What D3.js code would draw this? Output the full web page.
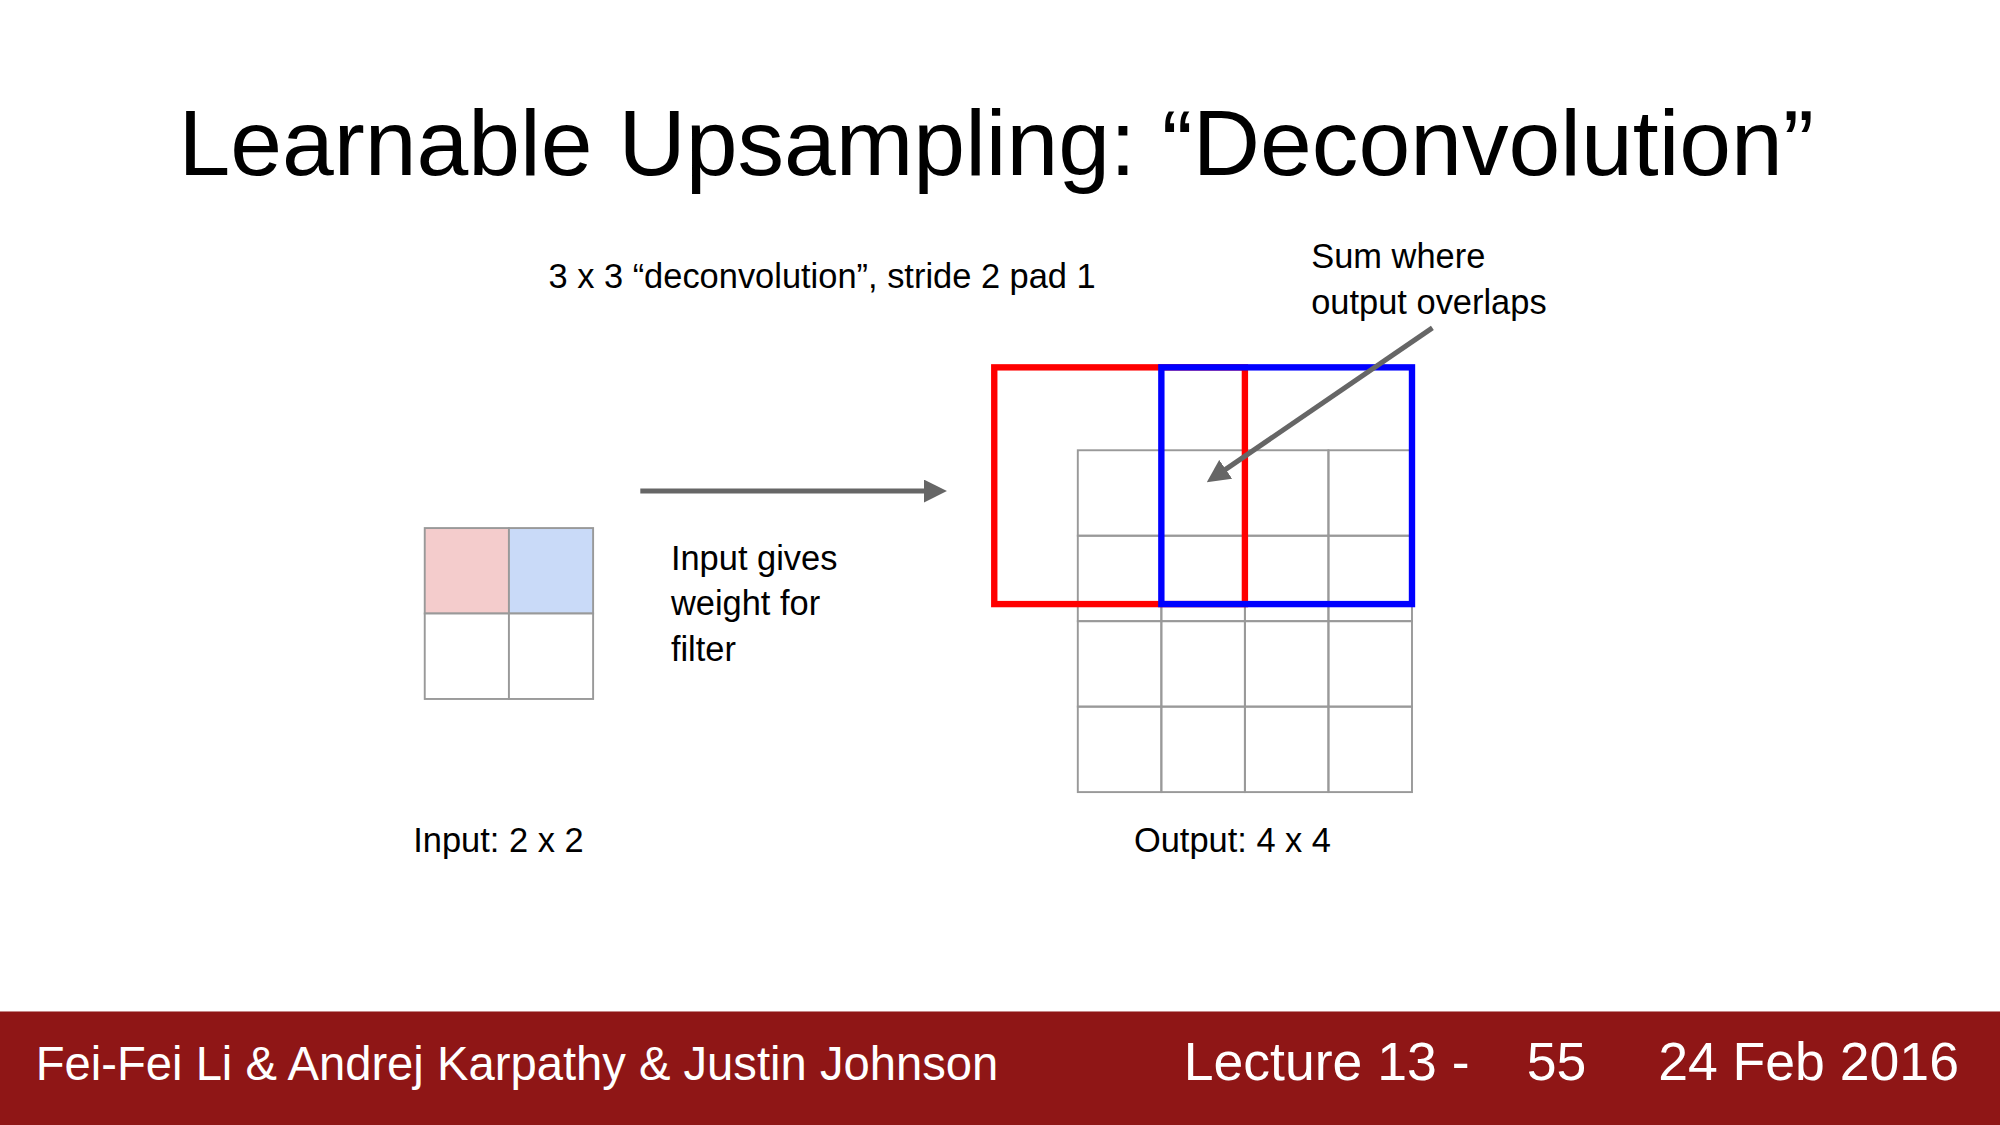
<!DOCTYPE html>
<html><head><meta charset="utf-8">
<script src="https://cdn.jsdelivr.net/npm/d3@7"></script>
<style>body{margin:0;background:#fff}svg{display:block}text{font-family:"Liberation Sans",Arial,sans-serif}</style>
</head><body><div id="chart"></div>
<script>
// input 2x2 cell fills, row by row
const inputCells = [['#f4cccc', '#c9daf8'], ['#fff', '#fff']];
const outputSize = 4;
// filter footprints on output grid, in cell units: [col0, row0, col1, row1]
const filters = [
  { color: '#ff0000', box: [-1, -0.97, 2, 1.8] },
  { color: '#0000ff', box: [1, -0.97, 4, 1.8] }
];
const footer = ['Fei-Fei Li & Andrej Karpathy & Justin Johnson', 'Lecture 13 -', '55', '24 Feb 2016'];

const W = 1568, H = 882;
let svg = d3.select('#chart').append('svg')
  .attr('width', 2000).attr('height', 1125)
  .attr('viewBox', '0 0 ' + W + ' ' + H);

svg.append('defs').append('marker')
  .attr('id', 'ah').attr('viewBox', '0 0 10 10').attr('refX', 2).attr('refY', 5)
  .attr('markerWidth', 4.5).attr('markerHeight', 4.5).attr('orient', 'auto')
  .append('path').attr('d', 'M0,0L10,5L0,10z').attr('fill', '#666');

svg.append('text').attr('x', 781).attr('y', 137).attr('text-anchor', 'middle')
  .attr('font-size', 73).text('Learnable Upsampling: \u201cDeconvolution\u201d');

let small = [
  ['3 x 3 \u201cdeconvolution\u201d, stride 2 pad 1', 430, 226],
  ['Sum where', 1028, 210], ['output overlaps', 1028, 246],
  ['Input gives', 526, 447], ['weight for', 526, 482], ['filter', 526, 518],
  ['Input: 2 x 2', 324, 668], ['Output: 4 x 4', 889, 668]
];
svg.selectAll('.lbl').data(small).enter().append('text')
  .attr('x', d => d[1]).attr('y', d => d[2]).attr('font-size', 27).text(d => d[0]);

// input grid
let ix = d3.scaleLinear().domain([0, 2]).range([333, 465]);
let iy = d3.scaleLinear().domain([0, 2]).range([414, 548]);
let icells = [];
inputCells.forEach((row, r) => row.forEach((c, k) => icells.push({ r, k, c })));
svg.selectAll('.ic').data(icells).enter().append('rect')
  .attr('x', d => ix(d.k)).attr('y', d => iy(d.r))
  .attr('width', ix(1) - ix(0)).attr('height', iy(1) - iy(0))
  .attr('fill', d => d.c).attr('stroke', '#999').attr('stroke-width', 1.5);

// output grid
let ox = d3.scaleLinear().domain([0, outputSize]).range([845, 1107]);
let oy = d3.scaleLinear().domain([0, outputSize]).range([353, 621]);
let ocells = d3.cross(d3.range(outputSize), d3.range(outputSize));
svg.selectAll('.oc').data(ocells).enter().append('rect')
  .attr('x', d => ox(d[1])).attr('y', d => oy(d[0]))
  .attr('width', ox(1) - ox(0)).attr('height', oy(1) - oy(0))
  .attr('fill', 'none').attr('stroke', '#999').attr('stroke-width', 1.5);

svg.selectAll('.flt').data(filters).enter().append('rect')
  .attr('x', d => ox(d.box[0])).attr('y', d => oy(d.box[1]))
  .attr('width', d => ox(d.box[2]) - ox(d.box[0]))
  .attr('height', d => oy(d.box[3]) - oy(d.box[1]))
  .attr('fill', 'none').attr('stroke', d => d.color).attr('stroke-width', 5);

// arrows
svg.append('line').attr('x1', 502).attr('y1', 385).attr('x2', 728).attr('y2', 385)
  .attr('stroke', '#666').attr('stroke-width', 4).attr('marker-end', 'url(#ah)');
svg.append('line').attr('x1', 1123).attr('y1', 257).attr('x2', 958).attr('y2', 370)
  .attr('stroke', '#666').attr('stroke-width', 4).attr('marker-end', 'url(#ah)');

// footer
svg.append('rect').attr('x', 0).attr('y', 793).attr('width', W).attr('height', H - 793).attr('fill', '#8f1616');
let fx = [28, 928, 1197, 1300];
svg.selectAll('.ft').data(footer).enter().append('text')
  .attr('x', (d, i) => fx[i]).attr('y', 847).attr('fill', '#fff')
  .attr('font-size', (d, i) => i === 0 ? 37 : 42).text(d => d);
</script></body></html>
